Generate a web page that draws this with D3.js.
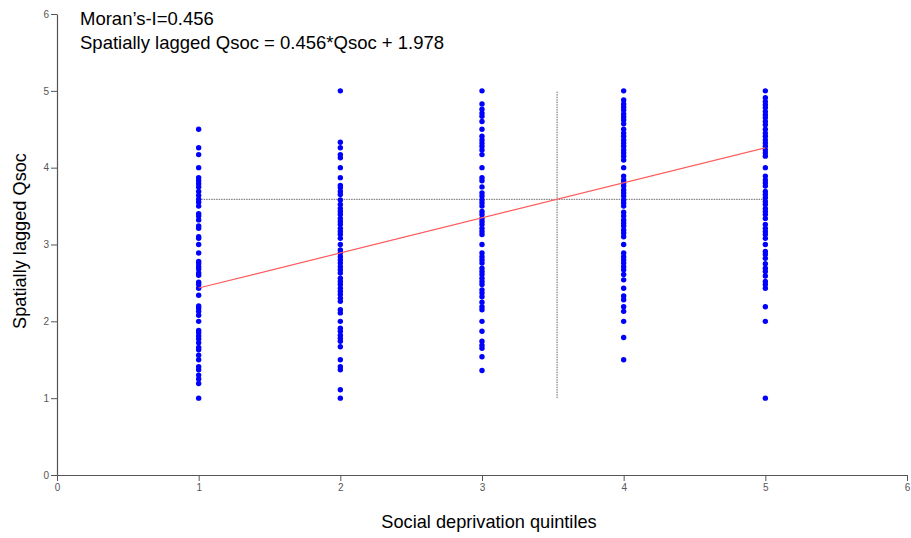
<!DOCTYPE html>
<html><head><meta charset="utf-8">
<script src="https://cdn.jsdelivr.net/npm/d3@7"></script>
<style>body{margin:0;background:#fff}svg{display:block}</style>
</head><body>
<svg id="c" width="911" height="538"></svg>
<script>
const xTicks = [0,1,2,3,4,5,6];
const yTicks = [0,1,2,3,4,5,6];
const quintiles = [1,2,3,4,5];
const q1 = [4.50,4.26,4.17,4.00,3.87,3.83,3.79,3.75,3.69,3.64,3.59,3.55,3.50,3.40,3.37,3.32,3.24,3.21,3.10,3.08,3.00,2.89,2.78,2.75,2.71,2.68,2.63,2.60,2.51,2.48,2.43,2.34,2.20,2.17,2.13,2.08,2.00,1.88,1.85,1.81,1.77,1.72,1.66,1.63,1.56,1.50,1.41,1.37,1.30,1.25,1.19,1.00];
const q2 = [5.00,4.33,4.26,4.17,4.13,4.00,3.87,3.77,3.74,3.69,3.65,3.58,3.52,3.47,3.43,3.39,3.34,3.30,3.26,3.21,3.17,3.13,3.08,3.00,2.93,2.89,2.84,2.80,2.76,2.71,2.67,2.63,2.56,2.52,2.48,2.43,2.39,2.35,2.30,2.26,2.15,2.11,2.00,1.91,1.87,1.82,1.78,1.74,1.67,1.50,1.41,1.37,1.11,1.00];
const q3 = [5.00,4.83,4.76,4.71,4.67,4.60,4.50,4.41,4.36,4.32,4.28,4.23,4.17,4.00,3.87,3.83,3.75,3.67,3.63,3.58,3.54,3.50,3.43,3.39,3.34,3.30,3.26,3.21,3.17,3.13,3.00,2.89,2.84,2.80,2.76,2.69,2.65,2.61,2.56,2.52,2.48,2.41,2.37,2.32,2.25,2.19,2.15,2.00,1.87,1.74,1.69,1.65,1.54,1.36];
const q4 = [5.00,4.88,4.83,4.79,4.75,4.70,4.66,4.62,4.57,4.50,4.45,4.41,4.36,4.32,4.28,4.23,4.19,4.15,4.10,4.00,3.89,3.84,3.80,3.76,3.71,3.67,3.63,3.58,3.54,3.50,3.42,3.37,3.32,3.28,3.24,3.19,3.15,3.10,3.00,2.89,2.84,2.80,2.76,2.71,2.67,2.61,2.54,2.43,2.33,2.28,2.19,2.13,2.00,1.79,1.50];
const q5 = [5.00,4.91,4.86,4.82,4.78,4.73,4.69,4.65,4.60,4.56,4.50,4.45,4.41,4.36,4.32,4.28,4.23,4.19,4.15,4.00,3.89,3.84,3.80,3.76,3.69,3.65,3.61,3.56,3.52,3.47,3.43,3.39,3.34,3.26,3.21,3.17,3.13,3.08,3.00,2.91,2.87,2.82,2.75,2.69,2.65,2.59,2.52,2.48,2.43,2.19,2.00,1.00];
const seriesValues = [q1,q2,q3,q4,q5];
const slope = 0.456, intercept = 1.978;
const meanX = 3.53, meanY = 3.588;
const titleLines = ["Moran\u2019s-I=0.456", "Spatially lagged Qsoc = 0.456*Qsoc + 1.978"];
const xLabel = "Social deprivation quintiles";
const yLabel = "Spatially lagged Qsoc";

const svg = d3.select("#c");
const x = d3.scaleLinear().domain([0,6]).range([57,907]);
const y = d3.scaleLinear().domain([0,6]).range([475,14]);
const tickFont = "'Liberation Sans Narrow','Liberation Sans',Arial,sans-serif";
const labFont = "'Liberation Sans',Arial,sans-serif";

const gx = svg.append("g").attr("transform","translate(0,475)")
  .call(d3.axisBottom(x).tickValues(xTicks).tickFormat(d3.format("d")).tickSize(6).tickSizeOuter(0));
const gy = svg.append("g").attr("transform","translate(57,0)")
  .call(d3.axisLeft(y).tickValues(yTicks).tickFormat(d3.format("d")).tickSize(6).tickSizeOuter(0));
[gx,gy].forEach(g=>{
  g.select(".domain").attr("stroke","#555").attr("stroke-width",1.2);
  g.selectAll(".tick line").attr("stroke","#555");
  g.selectAll(".tick text").attr("fill","#555").style("font-family",tickFont).style("font-size","10px");
});
gy.selectAll(".tick text").attr("x",-8);

// mean reference lines
svg.append("line").attr("x1",x(1)).attr("x2",x(5)).attr("y1",y(meanY)).attr("y2",y(meanY))
  .attr("stroke","#666").attr("stroke-width",1).attr("stroke-dasharray","1.5,1");
svg.append("line").attr("x1",x(meanX)).attr("x2",x(meanX)).attr("y1",y(1)).attr("y2",y(5))
  .attr("stroke","#666").attr("stroke-width",1).attr("stroke-dasharray","1.5,1");

// points
const pts = [];
seriesValues.forEach((arr,i)=>arr.forEach(v=>pts.push({q:quintiles[i],v})));
svg.append("g").selectAll("circle").data(pts).join("circle")
  .attr("cx",d=>x(d.q)).attr("cy",d=>y(d.v)).attr("r",2.7).attr("fill","#0000ff");

// regression line
svg.append("line").attr("x1",x(1)).attr("x2",x(5))
  .attr("y1",y(slope*1+intercept)).attr("y2",y(slope*5+intercept))
  .attr("stroke","#ff5a5a").attr("stroke-width",1.2);

// texts
svg.append("g").selectAll("text").data(titleLines).join("text")
  .attr("x",80).attr("y",(d,i)=>25+i*24).text(d=>d)
  .style("font-family",labFont).style("font-size","18.5px").attr("fill","#000");
svg.append("text").attr("x",489).attr("y",528).attr("text-anchor","middle").text(xLabel)
  .style("font-family",labFont).style("font-size","18.2px");
svg.append("text").attr("transform","translate(26,241) rotate(-90)").attr("text-anchor","middle").text(yLabel)
  .style("font-family",labFont).style("font-size","18.2px");
</script>
</body></html>
